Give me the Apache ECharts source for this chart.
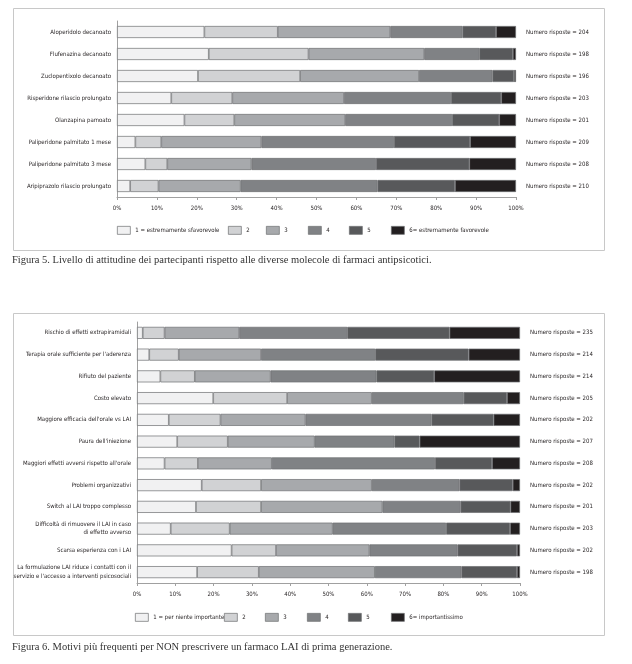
<!DOCTYPE html>
<html>
<head>
<meta charset="utf-8">
<script src="https://cdn.jsdelivr.net/npm/echarts@6/dist/echarts.min.js"></script>
<style>
html,body{margin:0;padding:0;background:#fff;}
#c{width:632px;height:664px;}
</style>
</head>
<body>
<div id="c"></div>
<script>
// ---------- Figura 5 ----------
const cats1 = ["Aloperidolo decanoato","Flufenazina decanoato","Zuclopentixolo decanoato","Risperidone rilascio prolungato","Olanzapina pamoato","Paliperidone palmitato 1 mese","Paliperidone palmitato 3 mese","Aripiprazolo rilascio prolungato"];
const n1 = [204,198,196,203,201,209,208,210];
const names1 = ["1 = estremamente sfavorevole","2","3","4","5","6= estremamente favorevole"];
const f5_1 = [21.9,23.0,20.3,13.6,16.9,4.6,7.1,3.3];
const f5_2 = [18.4,25.0,25.6,15.3,12.5,6.5,5.5,7.1];
const f5_3 = [28.2,29.0,29.8,28.0,27.8,25.1,21.1,20.6];
const f5_4 = [18.1,13.8,18.4,26.8,26.8,33.2,31.2,34.3];
const f5_5 = [8.4,8.4,5.4,12.6,11.8,19.1,23.4,19.4];
const f5_6 = [5.0,0.8,0.5,3.7,4.2,11.5,11.7,15.3];

// ---------- Figura 6 ----------
const cats2 = ["Rischio di effetti extrapiramidali","Terapia orale sufficiente per l'aderenza","Rifiuto del paziente","Costo elevato","Maggiore efficacia dell'orale vs LAI","Paura dell'iniezione","Maggiori effetti avversi rispetto all'orale","Problemi organizzativi","Switch al LAI troppo complesso","Difficoltà di rimuovere il LAI in caso\ndi effetto avverso","Scarsa esperienza con i LAI","La formulazione LAI riduce i contatti con il\nservizio e l'accesso a interventi psicosociali"];
const n2 = [235,214,214,205,202,207,208,202,201,203,202,198];
const names2 = ["1 = per niente importante","2","3","4","5","6= importantissimo"];
const f6_1 = [1.5,3.2,6.1,19.9,8.3,10.5,7.2,16.9,15.4,8.8,24.7,15.7];
const f6_2 = [5.7,7.7,9.0,19.3,13.5,13.2,8.7,15.5,17.0,15.4,11.6,16.1];
const f6_3 = [19.5,21.5,19.8,22.1,22.2,22.7,19.3,28.9,31.7,26.9,24.4,30.3];
const f6_4 = [28.2,29.8,27.6,24.0,32.9,20.8,42.6,22.9,20.4,29.6,23.0,22.6];
const f6_5 = [26.7,24.4,15.1,11.3,16.2,6.6,14.9,13.9,13.0,16.7,15.5,14.5];
const f6_6 = [18.4,13.4,22.4,3.4,6.9,26.2,7.3,1.9,2.5,2.6,0.8,0.8];

const captions = ["Figura 5. Livello di attitudine dei partecipanti rispetto alle diverse molecole di farmaci antipsicotici.",
                  "Figura 6. Motivi più frequenti per NON prescrivere un farmaco LAI di prima generazione."];

const colors = ['#f1f1f2','#d1d2d4','#a7a9ac','#808285','#58595b','#231f20'];
const FONT = '"Liberation Sans Narrow","DejaVu Sans Condensed","Roboto Condensed","Liberation Sans",sans-serif';
const SERIF = '"Liberation Serif","DejaVu Serif",serif';
const TXT = '#231f20';
const AX = '#a0a0a0';
const FS = 6;

const data1 = [f5_1,f5_2,f5_3,f5_4,f5_5,f5_6];
const data2 = [f6_1,f6_2,f6_3,f6_4,f6_5,f6_6];

function xAxisFor(gi, margin){
  return {type:'value', gridIndex:gi, min:0, max:100, interval:10,
    axisLine:{show:true, lineStyle:{color:AX, width:1}},
    axisTick:{show:true, length:3, lineStyle:{color:AX}},
    splitLine:{show:false},
    axisLabel:{formatter:'{value}%', fontSize:FS, fontFamily:FONT, color:TXT, margin:margin}};
}
function yAxisLeft(gi, cats){
  return {type:'category', gridIndex:gi, inverse:true, data:cats,
    axisLine:{show:true, lineStyle:{color:AX, width:1}},
    axisTick:{show:false},
    axisLabel:{fontSize:FS, fontFamily:FONT, color:TXT, margin:6, lineHeight:8.5, align:'right'}};
}
function yAxisRight(gi, ns){
  return {type:'category', gridIndex:gi, inverse:true, position:'right',
    data: ns.map(v => 'Numero risposte = ' + v),
    axisLine:{show:false}, axisTick:{show:false},
    axisLabel:{fontSize:FS, fontFamily:FONT, color:TXT, margin:10, align:'left'}};
}

const series = [];
names1.forEach((nm,i)=>{
  series.push({name:nm, type:'bar', stack:'f5', xAxisIndex:0, yAxisIndex:0, barWidth:12,
    data:data1[i], itemStyle:{color:colors[i], borderColor:'#6d6e71', borderWidth:0.7},
    emphasis:{disabled:true}});
});
names2.forEach((nm,i)=>{
  series.push({name:nm, type:'bar', stack:'f6', xAxisIndex:1, yAxisIndex:2, barWidth:12,
    data:data2[i], itemStyle:{color:colors[i], borderColor:'#6d6e71', borderWidth:0.7},
    emphasis:{disabled:true}});
});

const leg1X = [117,228,266,308,349,391];
const leg2X = [135,224,265,307,348,391];
const legends = [];
function addLegend(nm, x, y){
  legends.push({data:[nm], left:x, top:y, padding:0, itemWidth:13, itemHeight:8, icon:'rect',
    itemStyle:{borderColor:'#6d6e71', borderWidth:0.7},
    selectedMode:false,
    textStyle:{fontSize:FS, fontFamily:FONT, color:TXT}});
}
names1.forEach((nm,i)=>addLegend(nm, leg1X[i], 226));
names2.forEach((nm,i)=>addLegend(nm, leg2X[i], 613));

const option = {
  animation:false,
  backgroundColor:'#fff',
  title:[
    {text:captions[0], left:12, top:255, padding:0, textStyle:{fontFamily:SERIF, fontSize:10.5, fontWeight:'normal', color:'#333'}},
    {text:captions[1], left:12, top:642, padding:0, textStyle:{fontFamily:SERIF, fontSize:10.5, fontWeight:'normal', color:'#333'}}
  ],
  graphic:[
    {type:'rect', silent:true, shape:{x:13.5,y:8.5,width:591,height:242}, style:{fill:'none', stroke:'#c8c8c8', lineWidth:1}},
    {type:'rect', silent:true, shape:{x:13.5,y:313.5,width:591,height:322}, style:{fill:'none', stroke:'#c8c8c8', lineWidth:1}}
  ],
  legend:legends,
  grid:[
    {left:117, top:21, width:399, height:176, containLabel:false, outerBoundsMode:'none'},
    {left:137, top:322, width:383, height:261, containLabel:false, outerBoundsMode:'none'}
  ],
  xAxis:[xAxisFor(0,8), xAxisFor(1,8)],
  yAxis:[yAxisLeft(0,cats1), yAxisRight(0,n1), yAxisLeft(1,cats2), yAxisRight(1,n2)],
  series:series
};
const chart = echarts.init(document.getElementById('c'), null, {renderer:'canvas'});
chart.setOption(option);
</script>
</body>
</html>
